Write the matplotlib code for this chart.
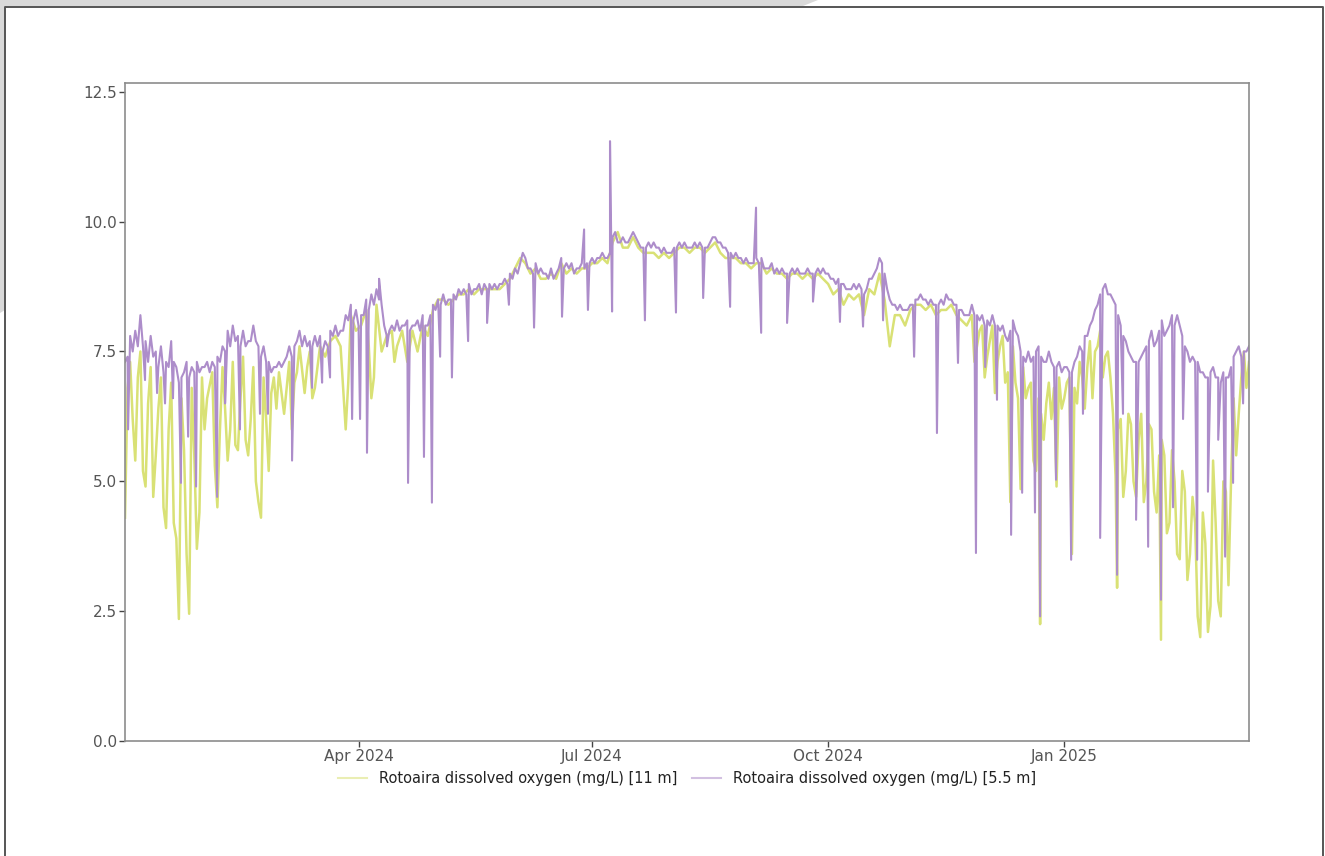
import numpy as np
import pandas as pd
import matplotlib
matplotlib.use("Agg")
import matplotlib.pyplot as plt
from matplotlib.lines import Line2D
from matplotlib.patches import Polygon

START = pd.Timestamp("2024-01-01")

# 5.5 m series, one value a day from 2024-01-01 (20 per row)
purple_daily = [
    7.3, 7.4, 7.8, 7.5, 7.9, 7.6, 8.2, 7.6, 7.7, 7.3, 7.8, 7.4, 7.5, 7.2, 7.6, 7.1, 7.3, 7.2, 7.7, 7.3,
    7.2, 6.9, 7.0, 7.1, 7.3, 7.0, 7.2, 7.1, 7.3, 7.1, 7.2, 7.2, 7.3, 7.1, 7.3, 7.2, 7.4, 7.3, 7.6, 7.5,
    7.9, 7.6, 8.0, 7.7, 7.8, 7.6, 7.9, 7.6, 7.7, 7.7, 8.0, 7.7, 7.6, 7.4, 7.6, 7.3, 7.3, 7.1, 7.2, 7.2,
    7.3, 7.2, 7.3, 7.4, 7.6, 7.4, 7.6, 7.7, 7.9, 7.6, 7.8, 7.6, 7.7, 7.6, 7.8, 7.6, 7.8, 7.5, 7.7, 7.6,
    7.9, 7.8, 8.0, 7.8, 7.9, 7.9, 8.2, 8.1, 8.4, 8.1, 8.3, 8.0, 8.2, 8.2, 8.5, 8.3, 8.6, 8.4, 8.7, 8.5,
    8.4, 8.0, 7.8, 7.9, 8.0, 7.9, 8.1, 7.9, 8.0, 8.0, 8.1, 7.9, 8.0, 8.0, 8.1, 7.9, 8.2, 8.0, 8.0, 8.2,
    8.4, 8.3, 8.5, 8.4, 8.6, 8.4, 8.5, 8.5, 8.6, 8.5, 8.7, 8.6, 8.7, 8.6, 8.8, 8.6, 8.7, 8.7, 8.8, 8.6,
    8.8, 8.7, 8.8, 8.7, 8.8, 8.7, 8.8, 8.8, 8.9, 8.8, 9.0, 8.9, 9.1, 9.0, 9.2, 9.4, 9.3, 9.1, 9.1, 9.0,
    9.2, 9.0, 9.1, 9.0, 9.0, 8.9, 9.1, 8.9, 9.0, 9.1, 9.3, 9.1, 9.2, 9.1, 9.2, 9.0, 9.1, 9.1, 9.2, 9.1,
    9.2, 9.2, 9.3, 9.2, 9.3, 9.3, 9.4, 9.3, 9.3, 9.4, 9.7, 9.8, 9.6, 9.6, 9.7, 9.6, 9.6, 9.7, 9.8, 9.7,
    9.6, 9.5, 9.5, 9.5, 9.6, 9.5, 9.6, 9.5, 9.5, 9.4, 9.5, 9.4, 9.4, 9.4, 9.5, 9.5, 9.6, 9.5, 9.6, 9.5,
    9.5, 9.5, 9.6, 9.5, 9.6, 9.5, 9.5, 9.5, 9.6, 9.7, 9.7, 9.6, 9.6, 9.5, 9.5, 9.4, 9.4, 9.3, 9.4, 9.3,
    9.3, 9.2, 9.3, 9.2, 9.2, 9.2, 9.3, 9.2, 9.3, 9.1, 9.1, 9.1, 9.2, 9.0, 9.1, 9.0, 9.1, 9.0, 9.0, 9.0,
    9.1, 9.0, 9.1, 9.0, 9.0, 9.0, 9.1, 9.0, 9.0, 9.0, 9.1, 9.0, 9.1, 9.0, 9.0, 8.9, 8.9, 8.8, 8.9, 8.8,
    8.8, 8.7, 8.7, 8.7, 8.8, 8.7, 8.8, 8.7, 8.6, 8.7, 8.9, 8.9, 9.0, 9.1, 9.3, 9.2, 9.0, 8.7, 8.5, 8.4,
    8.4, 8.3, 8.4, 8.3, 8.3, 8.3, 8.4, 8.4, 8.5, 8.5, 8.6, 8.5, 8.5, 8.4, 8.5, 8.4, 8.4, 8.4, 8.5, 8.4,
    8.6, 8.5, 8.5, 8.4, 8.4, 8.3, 8.3, 8.2, 8.2, 8.2, 8.4, 8.2, 8.2, 8.1, 8.2, 8.0, 8.1, 8.0, 8.2, 8.0,
    8.0, 7.9, 8.0, 7.8, 7.7, 7.9, 8.1, 7.9, 7.8, 7.5, 7.4, 7.3, 7.5, 7.3, 7.4, 7.5, 7.6, 7.4, 7.3, 7.3,
    7.5, 7.3, 7.2, 7.2, 7.3, 7.1, 7.2, 7.2, 7.1, 7.1, 7.3, 7.4, 7.6, 7.5, 7.8, 7.8, 8.0, 8.1, 8.3, 8.4,
    8.6, 8.7, 8.8, 8.6, 8.6, 8.5, 8.4, 8.2, 8.0, 7.8, 7.7, 7.5, 7.4, 7.3, 7.3, 7.3, 7.4, 7.5, 7.6, 7.7,
    7.9, 7.6, 7.7, 7.9, 8.1, 7.8, 7.9, 8.0, 8.2, 8.0, 8.2, 8.0, 7.8, 7.6, 7.5, 7.3, 7.4, 7.3, 7.3, 7.1,
    7.1, 7.0, 7.0, 7.1, 7.2, 7.0, 7.0, 6.9, 7.1, 7.0, 7.0, 7.2, 7.4, 7.5, 7.6, 7.4, 7.5, 7.5, 7.6,
]

# short dips / spikes in the 5.5 m series (day offset, value)
purple_extra_days = [
    1.2, 7.8, 12.5, 15.6, 18.7, 21.8, 24.6, 27.7, 35.9, 39.0,
    44.8, 52.6, 55.7, 65.1, 72.9, 76.8, 79.9, 88.5, 91.6, 94.3,
    99.0, 102.1, 110.3, 116.5, 119.6, 122.8, 127.4, 133.7, 141.1, 149.6,
    159.4, 170.3, 178.9, 180.4, 189.0, 189.8, 202.6, 214.7, 225.3, 235.8,
    245.9, 247.9, 258.0, 268.1, 278.6, 287.6, 295.4, 307.5, 316.4, 324.6,
    331.6, 335.2, 339.8, 345.3, 349.6, 354.6, 356.6, 362.8, 368.7, 373.3,
    380.0, 386.6, 388.9, 394.0, 398.7, 403.7, 408.4, 412.3, 417.8, 422.0,
    426.0, 428.7, 431.8, 435.7,
]
purple_extra_vals = [
    6.0, 6.95, 6.7, 6.5, 6.6, 4.97, 5.86, 4.9, 4.7, 6.5,
    6.0, 6.3, 6.3, 5.4, 6.8, 6.9, 7.0, 6.2, 6.2, 5.55,
    8.9, 7.6, 4.97, 5.47, 4.59, 7.4, 7.0, 7.7, 8.05, 8.4,
    7.96, 8.17, 9.85, 8.3, 11.55, 8.27, 8.1, 8.25, 8.53, 8.36,
    10.27, 7.86, 8.05, 8.46, 8.07, 7.98, 8.1, 7.4, 5.93, 7.28,
    3.62, 7.2, 6.57, 3.97, 4.78, 4.4, 2.4, 5.03, 3.49, 6.3,
    3.91, 3.2, 6.3, 4.26, 3.74, 2.72, 4.5, 6.2, 3.49, 4.8,
    5.8, 3.55, 4.97, 6.5,
]

# 11 m series, one value every 2 days from 2024-01-01
yellow_base = [
    4.3, 7.3, 5.4, 7.5, 4.9, 7.2, 5.5, 7.0, 4.1, 6.9,
    3.9, 6.6, 3.6, 6.8, 3.7, 7.0, 6.6, 7.1, 4.5, 7.2,
    5.4, 7.3, 5.6, 7.4, 5.5, 7.2, 4.6, 7.0, 5.2, 7.0,
    7.1, 6.3, 7.3, 6.9, 7.6, 6.7, 7.5, 6.8, 7.6, 7.4,
    7.7, 7.8, 7.6, 6.0, 8.2, 7.9, 8.0, 8.3, 6.6, 8.4,
    7.5, 7.8, 7.9, 7.6, 7.9, 7.3, 7.9, 7.5, 8.0, 7.8,
    8.3, 8.5, 8.5, 8.4, 8.5, 8.6, 8.6, 8.7, 8.6, 8.7,
    8.7, 8.7, 8.7, 8.7, 8.8, 8.9, 9.1, 9.3, 9.2, 9.0,
    9.1, 8.9, 8.9, 9.0, 8.9, 9.2, 9.0, 9.1, 9.0, 9.1,
    9.1, 9.2, 9.2, 9.3, 9.2, 9.6, 9.8, 9.5, 9.5, 9.7,
    9.5, 9.4, 9.4, 9.4, 9.3, 9.4, 9.3, 9.4, 9.5, 9.5,
    9.4, 9.5, 9.5, 9.4, 9.5, 9.6, 9.4, 9.3, 9.3, 9.3,
    9.2, 9.2, 9.1, 9.2, 9.2, 9.0, 9.1, 9.0, 9.0, 8.9,
    9.0, 9.0, 8.9, 9.0, 8.9, 9.0, 8.9, 8.8, 8.6, 8.7,
    8.4, 8.6, 8.5, 8.6, 8.2, 8.7, 8.6, 9.0, 8.5, 7.6,
    8.2, 8.2, 8.0, 8.3, 8.4, 8.4, 8.3, 8.4, 8.2, 8.3,
    8.3, 8.4, 8.2, 8.1, 8.0, 8.2, 7.6, 8.0, 7.4, 8.0,
    7.3, 7.8, 7.1, 7.6, 6.6, 7.2, 6.8, 5.4, 6.6, 5.8,
    6.9, 6.8, 7.0, 6.6, 7.0, 6.8, 7.3, 6.4, 7.7, 7.5,
    7.9, 7.4, 7.0, 5.1, 6.2, 5.2, 6.1, 4.7, 6.3, 5.0,
    6.0, 4.4, 5.8, 4.0, 5.6, 3.6, 5.2, 3.1, 4.7, 2.4,
    4.4, 2.1, 5.4, 2.7, 5.0, 3.0, 6.6, 6.3, 7.5, 7.3,
]

yellow_extra_days = [
    1, 3, 5, 7, 9, 11, 13, 15, 17, 19,
    21, 23, 25, 27, 29, 31, 35, 37, 39, 41,
    43, 45, 47, 49, 51, 53, 55, 57, 59, 65,
    67, 71, 73, 87, 95, 97, 105,
    331, 333, 335, 337, 339, 341, 343, 345, 347, 349,
    351, 353, 355, 356.6, 357, 359, 361, 363, 365, 367,
    369, 371, 373, 375, 377, 379, 381, 383, 385, 386.6,
    387, 389, 391, 393, 395, 397, 399, 401, 403, 403.7,
    405, 407, 409, 411, 413, 415, 417, 419, 421, 423,
    425, 427, 429, 431, 433, 435, 437,
]
yellow_extra_vals = [
    6.8, 6.2, 7.0, 5.2, 6.5, 4.7, 6.4, 4.5, 6.0, 4.2,
    2.35, 5.6, 2.45, 5.5, 4.4, 6.0, 5.3, 6.0, 6.4, 6.0,
    5.7, 6.6, 5.8, 6.2, 5.0, 4.3, 6.2, 6.7, 6.4, 6.0,
    7.1, 7.2, 6.6, 6.9, 7.6, 7.0, 7.3,
    7.3, 7.9, 7.0, 7.7, 6.7, 7.6, 6.9, 4.6, 6.9, 4.85,
    6.6, 6.9, 5.2, 2.25, 6.3, 6.5, 6.2, 4.9, 6.4, 6.9,
    3.6, 6.5, 7.0, 7.2, 6.6, 7.6, 7.0, 7.5, 6.3, 2.95,
    6.0, 4.7, 6.3, 5.0, 5.8, 4.6, 6.1, 4.8, 5.5, 1.95,
    5.5, 4.2, 5.0, 3.5, 4.8, 3.6, 4.2, 2.0, 3.8, 2.6,
    4.2, 2.4, 4.8, 5.0, 5.5, 7.0, 6.8,
]

labels = ["Rotoaira dissolved oxygen (mg/L) [11 m]",
          "Rotoaira dissolved oxygen (mg/L) [5.5 m]"]
colors = ["#d9e175", "#ad8dca"]


def series(base, step, extra_days, extra_vals):
    days = np.concatenate([np.arange(len(base)) * step, np.array(extra_days, float)])
    vals = np.concatenate([np.array(base, float), np.array(extra_vals, float)])
    order = np.argsort(days, kind="stable")
    t = START + pd.to_timedelta(days[order], unit="D")
    return t, vals[order]


ty, vy = series(yellow_base, 2.0, yellow_extra_days, yellow_extra_vals)
tp, vp = series(purple_daily, 1.0, purple_extra_days, purple_extra_vals)

W, H = 1325, 856
fig = plt.figure(figsize=(W / 100, H / 100), dpi=100)
ax = fig.add_axes([125 / W, 1 - 741 / H, (1249 - 125) / W, (741 - 83) / H])

ax.plot(ty, vy, color=colors[0], lw=1.8, label=labels[0])
ax.plot(tp, vp, color=colors[1], lw=1.5, label=labels[1])

ax.set_ylim(0, 12.67)
ax.set_yticks([0, 2.5, 5, 7.5, 10, 12.5])
ax.set_yticklabels(["0.0", "2.5", "5.0", "7.5", "10.0", "12.5"])
ax.set_xlim(START, START + pd.Timedelta(days=438))
xt = pd.to_datetime(["2024-04-01", "2024-07-01", "2024-10-01", "2025-01-01"])
ax.set_xticks(xt)
ax.set_xticklabels(["Apr 2024", "Jul 2024", "Oct 2024", "Jan 2025"])

for s in ax.spines.values():
    s.set_color("#8c8c8c")
    s.set_linewidth(1.2)
ax.tick_params(axis="both", length=4, width=1, color="#444444",
               labelcolor="#555555", labelsize=11, pad=2)

handles = [Line2D([], [], color=c, lw=1.5, alpha=0.55) for c in colors]
ax.legend(handles, labels, loc="upper center", bbox_to_anchor=(0.5, -0.026),
          ncol=2, frameon=False, fontsize=10.5, handlelength=2.0,
          columnspacing=1.0, handletextpad=0.8, labelcolor="#222222")

# page edge seen in the reference
def fp(x, y):
    return (x / W, 1 - y / H)

fig.add_artist(Polygon([fp(0, 0), fp(818, 0), fp(803, 6), fp(5, 6), fp(5, 310), fp(0, 313)],
                       closed=True, transform=fig.transFigure, facecolor="#d9d9d9",
                       edgecolor="none"))
ex = [fp(5, 856), fp(5, 6.5), fp(1323, 6.5), fp(1323, 856)]
fig.add_artist(Line2D([p[0] for p in ex], [p[1] for p in ex], transform=fig.transFigure,
                      color="#555555", lw=1.4))

fig.savefig("out.png", dpi=100)
